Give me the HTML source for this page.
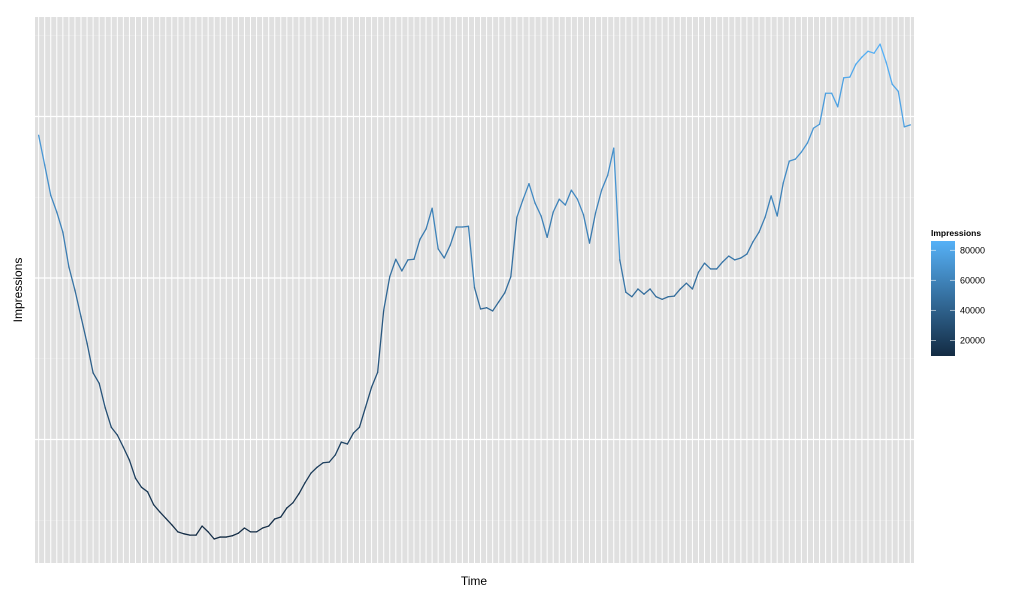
<!DOCTYPE html>
<html><head><meta charset="utf-8"><style>
html,body{margin:0;padding:0;background:#fff;width:1024px;height:600px;overflow:hidden}
svg text{font-family:"Liberation Sans",sans-serif}
</style></head><body>
<svg id="chart" width="1024" height="600" xmlns="http://www.w3.org/2000/svg">
<rect x="35" y="17" width="879" height="546" fill="#e0e0e0"/>
<g id="grid"></g>
<g id="series"></g>
<text x="474" y="585" font-size="12" text-anchor="middle" fill="#000">Time</text>
<text x="22" y="290" font-size="12" text-anchor="middle" fill="#000" transform="rotate(-90 22 290)">Impressions</text>
<g id="legend">
<text x="931" y="236" font-size="8.5" font-weight="bold" fill="#000">Impressions</text>
<defs><linearGradient id="grad" x1="0" y1="1" x2="0" y2="0"><stop offset="0" stop-color="#132B43"/><stop offset="1" stop-color="#56B1F7"/></linearGradient></defs>
<rect x="931" y="241" width="24" height="115" fill="url(#grad)"/>
<g id="legendticks"></g>
</g>
</svg>
<script>
const values = [72100,67500,62800,60200,57100,51700,48100,44000,39900,35300,33700,29900,26900,25700,23800,21800,19000,17600,16900,14900,13800,12800,11800,10700,10400,10200,10200,11600,10700,9600,9900,9900,10100,10500,11300,
10700,10700,11300,11600,12700,13000,14400,15200,16600,18300,19800,20700,21400,21500,22600,24600,24300,26000,26900,30000,33100,35400,45000,50200,52900,51100,52800,52900,56000,57600,60800,54500,53100,55100,
57900,57900,58000,48500,45200,45400,44900,46300,47700,50200,59400,62100,64600,61600,59600,56300,60200,62200,61300,63600,62200,59800,55400,60100,63600,65900,70100,52800,47800,47100,48300,47500,48300,47100,46700,47100,47200,48300,
49200,48300,50900,52300,51400,51400,52500,53400,52800,53100,53700,55600,57100,59400,62700,59600,64700,68100,68400,69500,70900,73200,73800,78600,78600,76500,81000,81100,83100,84200,85100,84800,86200,83400,80000,78900,73400,73700];
const yMajorTicks = [25000,50000,75000];
const yMinorTicks = [12500,37500,62500,87500];
const legendTicks = [20000,40000,60000,80000];

const NS="http://www.w3.org/2000/svg";
const n=values.length;
const px0=35, pw=879, step=pw/(n-1+1.2);
function xScale(i){return px0+0.6*step+i*step;}
function yScale(v){return 278-(v-50000)/25000*161.5;}
const vmin=Math.min(...values), vmax=Math.max(...values);
function colorOf(v){
  const t=(v-vmin)/(vmax-vmin);
  const a=[0x13,0x2B,0x43], b=[0x56,0xB1,0xF7];
  return "rgb("+a.map((c,k)=>Math.round(c+(b[k]-c)*t)).join(",")+")";
}
function mk(tag,attrs,parent){const e=document.createElementNS(NS,tag);for(const k in attrs)e.setAttribute(k,attrs[k]);parent.appendChild(e);return e;}
const grid=document.getElementById('grid');
yMinorTicks.forEach(v=>{
  const l=mk('line',{x1:35,x2:914,y1:yScale(v),y2:yScale(v),stroke:'#ececec','stroke-width':0.6},grid);
  
  
});
for(let i=0;i<n;i++){
  const l=mk('line',{x1:xScale(i),x2:xScale(i),y1:17,y2:563,stroke:'#ffffff','stroke-width':1},grid);
  
  
}
yMajorTicks.forEach(v=>{
  const l=mk('line',{x1:35,x2:914,y1:yScale(v),y2:yScale(v),stroke:'#ffffff','stroke-width':1.2},grid);
  
  
});
const series=document.getElementById('series');
for(let i=0;i<n-1;i++){
  const s=mk('line',{x1:xScale(i),y1:yScale(values[i]),x2:xScale(i+1),y2:yScale(values[i+1]),stroke:colorOf(values[i]),'stroke-width':1.3,'stroke-linecap':'round'},series);
  
  
}
const lt=document.getElementById('legendticks');
function ly(v){return 356-(v-vmin)/(vmax-vmin)*115;}
legendTicks.forEach(v=>{
  const y=ly(v);
  mk('line',{x1:931,x2:936,y1:y,y2:y,stroke:'#ffffff','stroke-width':0.8,'stroke-opacity':0.7},lt);
  mk('line',{x1:950,x2:955,y1:y,y2:y,stroke:'#ffffff','stroke-width':0.8,'stroke-opacity':0.7},lt);
  const t=mk('text',{x:960,y:y+3,'font-size':9,fill:'#000'},lt);
  t.textContent=v;
  
  
});
</script>
</body></html>
